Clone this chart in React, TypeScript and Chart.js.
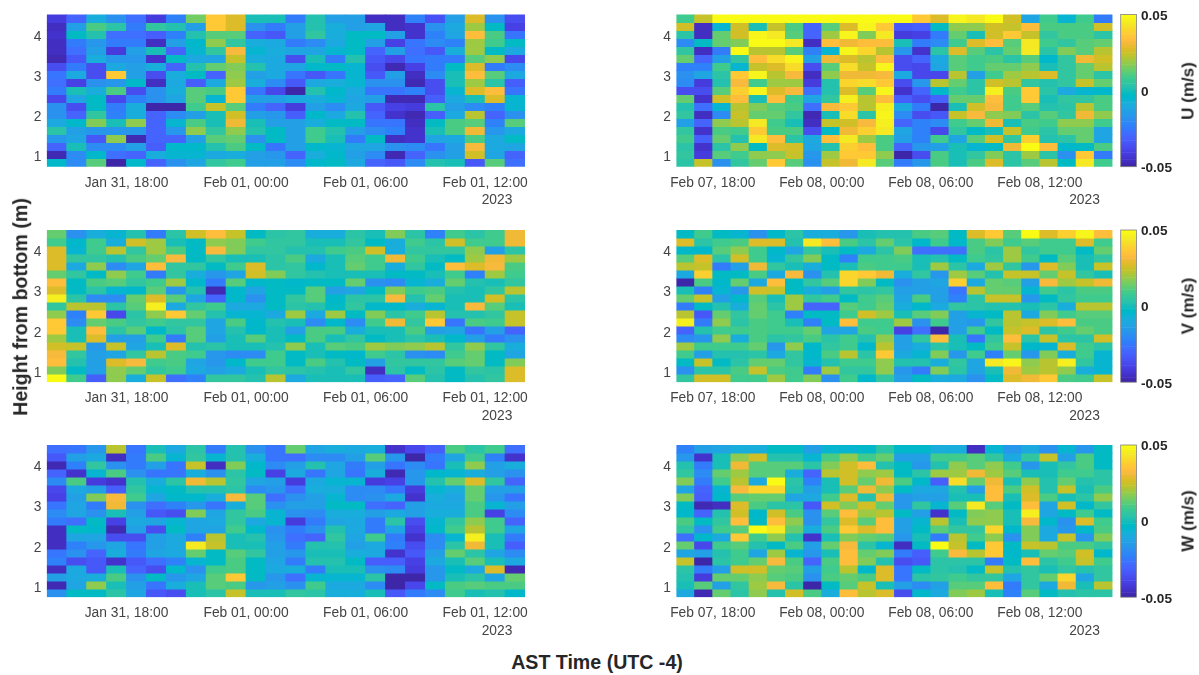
import React, { useEffect, useRef } from "react";
import { Chart, registerables } from "chart.js";

Chart.register(...registerables);

// Velocity in mm/s, one list per height bin, top bin first, one value per hour.
const uJan = [
  [-42,-30,-8,-18,-28,-42,-22,15,36,28,0,0,-25,2,-14,-14,-46,-46,-22,-35,-14,27,-18,-36],
  [-46,-14,10,4,-24,6,2,-14,36,28,-18,-24,-14,2,-8,-14,-12,-46,-44,-18,-10,20,-2,-40],
  [-44,-2,2,-28,-28,-32,-22,2,12,12,-30,-34,-14,6,-8,-2,-2,-14,-44,-22,-12,34,10,-26],
  [-46,-24,-16,-24,-24,-46,-14,-4,18,6,-8,-10,-24,-20,-10,-2,-14,-40,-26,-20,-22,20,8,-2],
  [-46,-28,-14,-42,-14,0,-30,-6,6,32,-6,-8,-12,-12,-6,-2,-30,-14,-28,-34,-8,20,-2,-10],
  [-48,-34,-8,-16,-16,-44,-2,-10,-12,24,-8,-10,-36,0,-24,2,-34,-38,-26,-24,-24,12,18,-38],
  [-36,-24,-36,-10,-14,-8,-30,2,14,16,2,-10,-12,-4,-2,-6,-36,-48,-40,-24,-2,28,-24,-20],
  [-26,-10,-36,36,-14,-36,-8,-2,-30,18,-14,-10,-26,-34,-26,-6,-34,-14,-46,-20,0,34,12,-10],
  [-28,-40,-18,-16,-4,-46,-10,-32,-10,20,-8,-20,-34,-10,-8,-6,-18,-18,-48,-36,0,20,4,-32],
  [-24,0,-8,10,-36,-18,-8,12,10,36,-26,-38,-50,2,-4,-10,-26,-26,-22,-36,-6,28,34,-26],
  [-38,-12,-2,-38,-22,-18,-12,12,-6,36,-14,-14,-10,-8,-6,-12,-14,-48,-48,-32,-10,0,28,-6],
  [-18,-36,-2,-24,-8,-50,-50,8,24,12,-24,-30,-42,-14,-20,-10,-34,-40,-42,4,-14,-20,-22,-6],
  [-18,-30,6,-22,-8,-30,-20,-14,0,26,-14,-16,-32,-4,-10,2,-30,-44,-48,-32,-10,22,-30,-18],
  [-10,-4,16,0,18,-30,-6,10,0,30,0,-14,-14,-8,-2,-2,-26,-26,-46,-2,10,12,-22,12],
  [4,-14,-16,-16,-16,-30,-16,18,6,18,2,-2,-14,8,2,-14,-20,-22,-44,0,10,30,-16,-10],
  [-16,-12,-34,18,-48,-30,-30,-14,12,14,-18,-2,-14,8,0,-24,-2,-46,-44,-12,-10,10,-10,-2],
  [-30,0,-20,-20,-14,-32,-4,-4,2,10,-2,-26,-14,-4,-6,-12,-12,-18,-20,-26,-14,32,-10,-12],
  [-48,-20,-4,-28,-30,-8,-6,-6,-10,-8,-14,-16,-30,-8,-4,-14,-20,-48,-30,-18,-14,26,-12,-30],
  [-4,-20,12,-50,-4,-30,-18,-12,6,8,-14,-14,-20,-4,-2,-10,-30,-34,-20,2,0,-34,12,-28],
];
const uFeb = [
  [8,24,50,50,50,50,50,50,50,50,50,50,50,36,28,48,44,50,26,-12,8,-6,8,-24],
  [25,-46,-6,26,0,24,10,-30,12,28,48,36,-34,-32,-2,18,18,26,24,34,10,10,10,26],
  [4,-46,14,26,48,44,12,-30,20,48,16,44,-42,-40,-24,14,0,26,36,24,6,10,10,4],
  [-20,-2,14,16,50,50,44,-46,34,30,34,34,0,-24,-20,8,28,34,12,44,8,6,12,14],
  [6,-46,-24,50,22,22,12,-22,-6,48,40,22,-16,-44,4,28,12,4,14,44,4,16,12,22],
  [14,-30,-14,6,34,42,48,-14,30,28,22,34,-36,-30,-10,12,8,10,4,12,-4,6,30,26],
  [-22,-22,8,-6,24,28,42,-36,12,42,24,48,-36,-38,-12,12,8,14,14,18,0,6,14,22],
  [-18,-12,4,36,48,22,32,-46,18,30,30,32,-10,-38,-38,22,-14,8,20,22,28,6,14,4],
  [-20,-42,2,32,8,20,20,-42,2,40,42,36,-36,-16,22,14,4,26,22,6,2,6,24,14],
  [-36,-36,12,38,48,28,32,-28,2,28,12,48,-44,-30,-4,8,4,46,10,36,4,-10,-6,-4],
  [14,-44,26,34,0,34,8,-12,6,46,22,34,-32,-36,-30,14,14,34,8,36,0,6,6,10],
  [2,-28,-6,22,16,12,10,-28,32,36,22,46,-10,-24,-50,0,26,32,8,12,2,4,22,10],
  [6,-46,-20,24,14,14,6,-48,0,42,4,48,-20,-36,-34,24,32,18,16,4,12,6,30,18],
  [-14,-30,18,22,44,8,0,-46,24,26,32,46,-30,-22,-20,8,14,30,0,10,8,18,18,8],
  [6,-44,10,8,36,10,10,-36,-2,30,38,44,-12,-22,-38,6,-2,0,24,8,4,14,14,-12],
  [8,-32,14,2,44,34,4,-10,34,44,20,10,-14,-22,8,-12,12,26,6,38,2,4,14,-12],
  [4,-44,4,18,-2,28,26,-12,2,38,34,10,-30,-16,-14,0,-6,-2,30,50,34,-4,-2,10],
  [6,-42,12,8,18,18,24,-16,20,36,36,18,-50,-36,10,0,6,16,4,20,4,-18,36,-24],
  [4,24,-18,6,14,36,12,-18,24,30,44,12,-24,-16,10,0,10,28,4,12,22,-2,44,8],
];
const vJan = [
  [14,-18,-8,-6,2,-24,4,26,34,24,-2,4,6,-8,-8,4,0,16,4,-22,8,4,8,30],
  [8,-4,8,-8,26,20,0,-2,18,16,8,6,6,0,0,6,-2,-8,8,4,26,8,8,30],
  [28,-6,8,22,6,20,10,-2,32,16,6,6,2,2,8,10,26,-8,6,6,6,18,-14,4],
  [28,6,6,2,10,14,32,-2,6,0,0,4,10,-10,0,12,8,30,8,0,-2,20,30,20],
  [28,-10,18,-20,-12,34,6,6,-2,8,28,4,6,-4,0,14,8,-8,6,-2,34,28,32,10],
  [14,6,-2,18,8,-24,6,-8,-16,-12,26,16,6,2,0,0,0,-2,-2,0,8,-22,20,8],
  [34,-2,10,12,6,8,20,-4,-24,12,-4,-2,-4,-2,-2,14,-18,-20,-6,-8,14,2,0,6],
  [28,-2,4,-6,-4,12,-16,2,-48,-4,-12,-2,-2,12,-14,-12,-2,16,8,10,2,0,6,22],
  [46,4,-20,-20,14,28,12,-12,-30,-4,-18,-2,6,12,-4,4,4,32,2,14,0,0,26,4],
  [6,22,22,4,12,46,-10,6,8,-10,-10,-2,4,2,-2,6,-4,-4,-8,-6,0,32,12,0],
  [18,-22,36,-38,4,18,36,14,2,-6,-6,-10,20,-10,20,-2,16,4,8,22,2,2,6,24],
  [36,-20,14,10,6,8,6,6,-12,10,-4,2,0,-20,-4,-20,8,30,6,36,-26,10,8,24],
  [36,0,34,4,12,-4,4,12,-12,2,-4,0,-14,10,10,-8,0,0,10,-14,-12,-26,-14,-30],
  [20,0,28,-14,-14,8,-24,12,-14,0,12,0,-2,10,0,6,-2,0,4,0,-4,-14,-24,-18],
  [26,24,-16,24,-12,0,28,2,4,0,0,2,18,0,12,10,20,16,18,22,6,18,6,-8],
  [32,6,-14,-12,6,22,10,8,-16,-20,-20,8,-2,0,-2,-4,8,4,-18,-20,8,14,-2,-12],
  [34,2,-14,28,32,8,10,-12,-16,-4,8,8,-2,10,2,-2,-14,6,6,6,12,14,-2,16],
  [16,-2,-14,18,14,6,8,-10,-14,-10,0,6,4,2,0,6,-46,4,-2,4,-2,6,4,28],
  [50,8,-32,18,-8,24,-28,-22,6,6,2,22,-10,0,0,0,-32,-30,12,2,-2,2,6,28],
];
const vFeb = [
  [-2,8,-2,-6,-18,-4,4,-8,-8,-16,0,2,2,10,12,-2,28,36,12,50,28,38,48,34],
  [28,4,8,10,28,28,2,44,34,10,4,14,4,-4,8,-4,10,16,8,12,8,8,28,8],
  [-4,-4,12,18,8,-4,-12,6,0,-2,-10,4,16,-28,-28,-28,10,4,20,6,8,8,-2,14],
  [12,28,4,26,8,-6,6,16,-2,-22,8,8,10,0,2,-2,8,6,20,8,-2,12,0,6],
  [22,24,-24,-14,30,6,0,-8,-2,0,10,8,8,0,20,4,-10,20,6,-16,28,16,0,24],
  [-10,38,-2,-2,10,-10,32,-18,2,40,36,30,-8,6,-16,20,12,2,24,24,14,24,6,0],
  [-50,10,-4,14,-10,34,-2,6,12,40,16,-2,-18,-14,-12,38,-10,14,12,-14,32,20,24,30],
  [0,-22,-6,-16,26,24,-2,-8,-14,6,4,6,-14,-14,-14,-26,22,14,14,-6,8,4,10,10],
  [14,24,-14,-4,12,0,20,6,8,-2,8,12,-12,10,-14,-22,4,24,24,-16,-2,6,8,8],
  [-24,-2,2,-8,14,4,20,-30,-30,12,8,14,-8,-4,-10,6,4,2,2,0,4,-8,22,22],
  [22,-34,14,6,14,8,-22,-2,-2,8,26,20,0,12,16,-14,-6,-2,22,-10,16,8,12,12],
  [46,-24,18,4,10,8,0,-22,-2,34,8,8,20,-18,8,-14,-16,6,22,24,28,34,10,10],
  [-30,2,8,8,10,8,8,14,-12,-12,10,8,-40,-28,-50,-14,8,-2,24,28,4,8,14,10],
  [-20,-16,18,-8,10,4,6,10,4,8,2,18,-14,6,34,0,-26,6,34,4,24,4,4,26],
  [20,8,8,8,14,-16,18,-4,6,8,-4,22,-14,-8,4,0,-2,8,24,-4,-6,28,8,4],
  [8,-14,2,2,4,-10,6,-4,10,22,4,36,-10,-6,16,-16,8,-22,14,-16,16,-8,8,-6],
  [-2,24,-2,4,14,14,6,-6,2,8,8,18,2,2,-8,6,-12,44,48,18,22,46,6,-6],
  [-18,4,4,10,24,10,8,-24,20,6,6,18,-16,-24,16,4,-12,0,30,20,22,18,-8,-6],
  [6,26,26,8,8,20,8,16,-18,8,-4,6,-14,-2,-8,-10,-18,-2,28,30,36,10,8,24],
];
const wJan = [
  [-28,-26,-16,22,-26,0,-10,4,-24,2,-18,-26,14,-12,-8,-10,-8,-44,-38,-32,10,4,8,-28],
  [-34,-14,-10,-46,-24,10,-6,6,-6,2,-8,-26,-28,-20,-20,-14,12,-16,-50,-24,-12,8,-22,-44],
  [-48,-22,6,-18,-24,-14,-26,24,-46,16,-4,-20,-14,2,-12,-24,-14,-26,-20,-26,0,18,-14,-8],
  [-30,-44,-6,10,-18,-26,-26,-8,-18,4,-2,-40,-10,-26,-12,-26,-8,-48,-16,-4,-6,-8,-14,-18],
  [-20,10,-42,-44,2,-8,4,30,22,6,-12,-14,-42,-10,-6,-6,-42,-40,-16,2,14,28,6,-30],
  [-38,-10,-14,-32,6,-6,-2,2,2,4,-20,-16,-28,-8,-8,-20,-20,-26,-42,-6,-8,14,-14,-14],
  [-40,-14,16,32,8,-12,-4,-4,-8,32,12,-28,-18,-14,-6,-20,-18,-10,-44,-8,-12,14,-16,-26],
  [-26,-12,-24,30,-18,-28,-22,-16,-26,-8,12,-18,-14,-14,-2,-2,-28,-30,-14,-10,-10,10,-6,-14],
  [-20,-12,-18,0,-14,-34,-36,16,-12,6,10,-6,-18,-20,-8,-8,-14,-10,-14,-8,-8,10,-40,-20],
  [-24,-28,-2,-40,-10,-12,-6,-12,-10,6,-10,-6,-42,-24,-12,-10,-24,4,-36,-6,6,18,8,-30],
  [-46,-2,-4,-48,-14,-36,-2,-12,-12,8,-4,-18,-24,-18,2,-10,-24,-12,-40,-4,8,22,8,-12],
  [-46,-12,-12,-36,-36,-14,-10,-22,22,0,2,-16,-28,-30,6,-12,8,-24,-44,-20,-6,46,0,-24],
  [-46,-22,-16,-12,-26,-14,-10,44,24,0,0,-14,-24,2,2,-14,-10,-22,-36,-20,4,30,0,-32],
  [-26,-18,-30,-8,-24,-12,-10,14,-2,12,6,-14,-16,0,0,-8,-10,-44,-34,-14,14,4,-12,-20],
  [-22,-36,-34,-44,-34,-28,-22,-6,-2,10,-2,-12,-24,2,2,-2,-32,-32,-40,-10,0,12,0,-10],
  [-46,-10,-34,0,-30,-36,-4,-18,8,10,-2,-10,-8,-24,0,0,-18,-20,-42,-16,-2,-10,28,-48],
  [-14,-10,-8,10,-18,-2,-16,-12,12,36,-2,-16,-28,-6,-6,-6,4,-50,-50,-16,0,4,-12,14],
  [-48,-12,18,0,-14,-26,-8,0,12,10,-16,-14,-18,8,-10,-10,-20,-50,-38,-2,10,12,10,10],
  [-18,-2,-2,4,-12,-34,-36,0,4,24,0,0,6,4,-8,-8,0,-34,-24,-20,8,0,2,-4],
];
const wFeb = [
  [-22,-14,-12,-8,-8,-2,-2,-14,-6,-6,-4,4,-4,-4,-8,-8,-46,-6,-16,-10,-18,-6,-16,-2],
  [-16,-44,0,18,26,2,2,-6,10,18,8,14,-14,-14,8,8,12,6,-10,6,24,-14,10,-2],
  [2,-24,0,30,12,12,12,4,16,26,34,2,-2,-16,2,18,12,18,8,-16,0,6,10,-2],
  [6,-20,14,20,12,12,-8,-30,22,26,18,20,-2,4,20,20,30,20,12,0,0,8,8,4],
  [16,-24,8,22,-10,50,4,-22,0,26,14,30,10,-4,-32,42,14,30,0,18,2,14,2,4],
  [-12,-30,-6,32,40,40,2,-14,0,12,30,18,-2,-10,-12,2,-14,34,10,26,2,24,0,10],
  [16,-32,-4,12,14,14,-12,-10,8,28,2,30,-16,-14,-14,0,0,34,0,28,10,0,4,18],
  [-2,-48,-46,28,10,4,4,-34,26,16,26,14,-16,6,-6,12,44,12,-2,34,-12,26,-4,6],
  [-4,-30,2,26,-4,26,10,-18,12,34,20,22,-2,-14,-44,-2,16,18,0,46,-12,-2,8,-2],
  [10,-2,6,34,-2,34,18,-18,6,28,12,34,-14,-6,22,0,18,18,0,32,-4,-18,28,8],
  [6,-18,8,12,50,44,14,-8,10,36,28,34,-14,-2,12,6,6,40,-4,16,-10,-16,-4,10],
  [-28,-4,-10,36,8,18,2,-44,0,16,14,12,-16,0,-24,22,8,18,-18,16,-10,24,-16,16],
  [14,-38,8,12,2,-2,10,-14,14,32,4,-6,-46,-2,50,24,-2,36,-2,24,22,10,10,6],
  [-12,-14,2,8,-12,20,-6,-16,0,34,14,16,-24,-32,8,32,22,36,-4,0,14,12,26,-4],
  [24,-50,4,8,14,32,10,-30,10,34,16,2,-36,-34,4,4,4,-24,-2,34,4,8,24,8],
  [4,-24,-14,26,26,14,12,-14,8,22,-4,28,-26,-2,4,2,-2,24,2,6,0,6,2,6],
  [2,-42,14,14,18,12,10,-18,10,14,10,28,-26,4,6,8,6,6,-12,6,14,40,-12,6],
  [0,12,-14,6,20,32,4,-50,-2,12,24,0,-14,-20,-14,12,12,34,-24,6,-10,30,0,22],
  [-10,-48,14,4,18,2,26,10,-8,34,22,28,-36,-4,-10,16,20,0,-22,12,-2,2,4,4],
];

const heightTicks = [1, 2, 3, 4];
const hourTicksJan = [4, 10, 16, 22];
const hourLabelsJan = ["Jan 31, 18:00", "Feb 01, 00:00", "Feb 01, 06:00", "Feb 01, 12:00"];
const hourTicksFeb = [2, 8, 14, 20];
const hourLabelsFeb = ["Feb 07, 18:00", "Feb 08, 00:00", "Feb 08, 06:00", "Feb 08, 12:00"];
const colorbarTicks = [-0.05, 0, 0.05];
const colorbarLabels = ["-0.05", "0", "0.05"];
const componentNames = ["U (m/s)", "V (m/s)", "W (m/s)"];

// MATLAB parula, 64 steps.
const parula = [
  [.2422,.1504,.6603],[.2504,.165,.7076],[.2578,.1818,.7511],[.2647,.1978,.7952],[.2706,.2147,.8364],[.2751,.2342,.871],[.2783,.2559,.8991],[.2803,.2782,.9221],
  [.2813,.3006,.9414],[.281,.3228,.9579],[.2795,.3447,.9717],[.276,.3667,.9829],[.2699,.3892,.9906],[.2602,.4123,.9952],[.244,.4358,.9988],[.2206,.4603,.9973],
  [.1963,.4847,.9892],[.1834,.5074,.9798],[.1786,.5289,.9682],[.1764,.5499,.952],[.1687,.5703,.9359],[.154,.5902,.9218],[.146,.6091,.9079],[.138,.6276,.8973],
  [.1248,.6459,.8883],[.1113,.6635,.8763],[.0952,.6798,.8598],[.0689,.6948,.8394],[.0297,.7082,.8163],[.0036,.7203,.7917],[.0067,.7312,.766],[.0433,.7411,.7394],
  [.0964,.75,.712],[.1408,.7584,.6842],[.1717,.767,.6554],[.1938,.7758,.6251],[.2161,.7843,.5923],[.247,.7918,.5567],[.2906,.7973,.5188],[.3406,.8008,.4789],
  [.3909,.8029,.4354],[.4456,.8024,.3909],[.5044,.7993,.348],[.5616,.7942,.3045],[.6174,.7876,.2612],[.672,.7793,.2227],[.7242,.7698,.191],[.7738,.7598,.1646],
  [.8203,.7498,.1535],[.8634,.7406,.1596],[.9035,.733,.1774],[.9393,.7288,.21],[.9728,.7298,.2394],[.9956,.7434,.2371],[.997,.7659,.2199],[.9952,.7893,.2028],
  [.9892,.8136,.1885],[.9786,.8386,.1766],[.9676,.8639,.1643],[.961,.889,.1537],[.9597,.9135,.1423],[.9628,.9373,.1265],[.9691,.9606,.1064],[.9769,.9839,.0805],
];
const colorOf = (i: number) => {
  const c = parula[Math.max(0, Math.min(63, i))];
  return `rgb(${Math.round(c[0] * 255)},${Math.round(c[1] * 255)},${Math.round(c[2] * 255)})`;
};
const colorFor = (mm: number) => colorOf(Math.floor(((mm + 50) / 100) * 64));

const SANS = "'Liberation Sans', Arial, sans-serif";
const TICK = "#444444";
const DARK = "#262626";
const Y_MIN = 0.725;
const ROW = 0.2;

const noScalePadding = (s: any) => {
  s.paddingTop = 0;
  s.paddingBottom = 0;
  s.paddingLeft = 0;
  s.paddingRight = 0;
};

function Heatmap(props: { top: number; padTop: number; left: number; width: number; axisW: number; padRight: number; rows: number[][]; ticks: number[]; labels: string[] }) {
  const ref = useRef<HTMLCanvasElement>(null);
  useEffect(() => {
    const { rows, ticks, labels, axisW, padRight, padTop } = props;
    const n = rows.length;
    const datasets = rows.map((row, r) => ({
      data: row.map((v, h) => ({ x: h + 0.5, y: [Y_MIN + ROW * (n - 1 - r), Y_MIN + ROW * (n - r)] })),
      backgroundColor: row.map(colorFor),
      borderWidth: 0,
      inflateAmount: 0.4,
      grouped: false,
      barPercentage: 1,
      categoryPercentage: 1,
    }));
    const font = { family: SANS, size: 13.8 };
    const chart = new Chart(ref.current!, {
      type: "bar",
      data: { datasets } as any,
      options: {
        animation: false,
        responsive: false,
        events: [],
        layout: { autoPadding: false, padding: { top: padTop, right: padRight, left: 0, bottom: 0 } },
        plugins: { legend: { display: false }, tooltip: { enabled: false }, title: { display: false } },
        scales: {
          x: {
            type: "linear", min: 0, max: 24, offset: false,
            grid: { display: false, drawTicks: false }, border: { display: false },
            afterFit: (s: any) => { s.height = 200 - padTop - 152.2; noScalePadding(s); },
            afterBuildTicks: (s: any) => { s.ticks = ticks.map((value) => ({ value })); },
            ticks: {
              autoSkip: false, maxRotation: 0, minRotation: 0, padding: 8, color: TICK, font,
              callback: (v: any) => labels[ticks.indexOf(v)],
            },
          },
          y: {
            type: "linear", min: Y_MIN, max: Y_MIN + ROW * n,
            grid: { display: false, drawTicks: false }, border: { display: false },
            afterFit: (s: any) => { s.width = axisW; noScalePadding(s); },
            afterBuildTicks: (s: any) => { s.ticks = heightTicks.map((value) => ({ value })); },
            ticks: { padding: 5.5, labelOffset: 1.6, color: TICK, font, callback: (v: any) => String(v) },
          },
        },
      } as any,
    });
    return () => chart.destroy();
  }, []);
  return <canvas ref={ref} width={props.width} height={200} style={{ position: "absolute", left: props.left, top: props.top }} />;
}

const colorbarFrame = {
  id: "colorbarFrame",
  afterDatasetsDraw(chart: any) {
    const { ctx, chartArea: a, scales } = chart;
    ctx.save();
    ctx.strokeStyle = "#808080";
    ctx.lineWidth = 0.8;
    ctx.strokeRect(a.left, a.top, a.right - a.left, a.bottom - a.top);
    const y = scales.y.getPixelForValue(0);
    ctx.beginPath();
    ctx.moveTo(a.right - 2, y);
    ctx.lineTo(a.right, y);
    ctx.stroke();
    ctx.restore();
  },
};

function Colorbar(props: { top: number; padTop: number }) {
  const ref = useRef<HTMLCanvasElement>(null);
  useEffect(() => {
    const step = 0.1 / parula.length;
    const padTop = props.padTop + 8;
    const chart = new Chart(ref.current!, {
      type: "bar",
      data: {
        datasets: [{
          data: parula.map((_, i) => ({ x: 0, y: [-0.05 + i * step, -0.05 + (i + 1) * step] })),
          backgroundColor: parula.map((_, i) => colorOf(i)),
          borderWidth: 0,
          inflateAmount: 0.3,
          barPercentage: 1,
          categoryPercentage: 1,
        }],
      } as any,
      options: {
        animation: false,
        responsive: false,
        events: [],
        layout: { autoPadding: false, padding: { top: padTop, left: 0.7, right: 0, bottom: 188 - padTop - 152.2 } },
        plugins: { legend: { display: false }, tooltip: { enabled: false } },
        scales: {
          x: { type: "linear", min: -0.5, max: 0.5, display: false, offset: false },
          y: {
            type: "linear", position: "right", min: -0.05, max: 0.05,
            grid: { display: false, drawTicks: false }, border: { display: false },
            afterFit: (s: any) => { s.width = 62.6; noScalePadding(s); },
            afterBuildTicks: (s: any) => { s.ticks = colorbarTicks.map((value) => ({ value })); },
            ticks: {
              padding: 4.6, labelOffset: 1.6, color: DARK, font: { family: SANS, size: 13.6, weight: "bold" },
              callback: (v: any) => colorbarLabels[colorbarTicks.indexOf(v)],
            },
          },
        },
      } as any,
      plugins: [colorbarFrame],
    });
    return () => chart.destroy();
  }, []);
  return <canvas ref={ref} width={79} height={188} style={{ position: "absolute", left: 1120, top: props.top - 8 }} />;
}

function Label(props: { x: number; y: number; text: string; size: number; bold?: boolean; rotate?: boolean; color?: string }) {
  return (
    <div style={{
      position: "absolute", left: props.x, top: props.y, whiteSpace: "nowrap",
      transform: `translate(-50%, -50%)${props.rotate ? " rotate(-90deg)" : ""}`,
      fontFamily: SANS, fontSize: props.size, fontWeight: props.bold ? 700 : 400, color: props.color ?? TICK, lineHeight: 1,
    }}>{props.text}</div>
  );
}

const panelTops = [10, 226, 441];
const panelPads = [4.5, 4, 4];
const janPanels = [uJan, vJan, wJan];
const febPanels = [uFeb, vFeb, wFeb];

export default function App() {
  return (
    <div style={{ position: "absolute", left: 0, top: 0, width: 1199, height: 675, overflow: "hidden", background: "#fff", filter: "blur(0.4px)" }}>
      {panelTops.map((top, i) => (
        <React.Fragment key={i}>
          <Heatmap top={top} padTop={panelPads[i]} left={0} width={540} axisW={46.8} padRight={15} rows={janPanels[i]} ticks={hourTicksJan} labels={hourLabelsJan} />
          <Heatmap top={top} padTop={panelPads[i]} left={620} width={500} axisW={56.4} padRight={7.5} rows={febPanels[i]} ticks={hourTicksFeb} labels={hourLabelsFeb} />
          <Colorbar top={top} padTop={panelPads[i]} />
          <Label x={497} y={top + panelPads[i] + 152.2 + 33.5} text="2023" size={13.8} />
          <Label x={1084.5} y={top + panelPads[i] + 152.2 + 33.5} text="2023" size={13.8} />
          <Label x={1188} y={top + panelPads[i] + 76} text={componentNames[i]} size={17} bold rotate color={DARK} />
        </React.Fragment>
      ))}
      <Label x={21} y={307} text="Height from bottom (m)" size={19.6} bold rotate color={DARK} />
      <Label x={597} y={663} text="AST Time (UTC -4)" size={19.6} bold color={DARK} />
    </div>
  );
}
